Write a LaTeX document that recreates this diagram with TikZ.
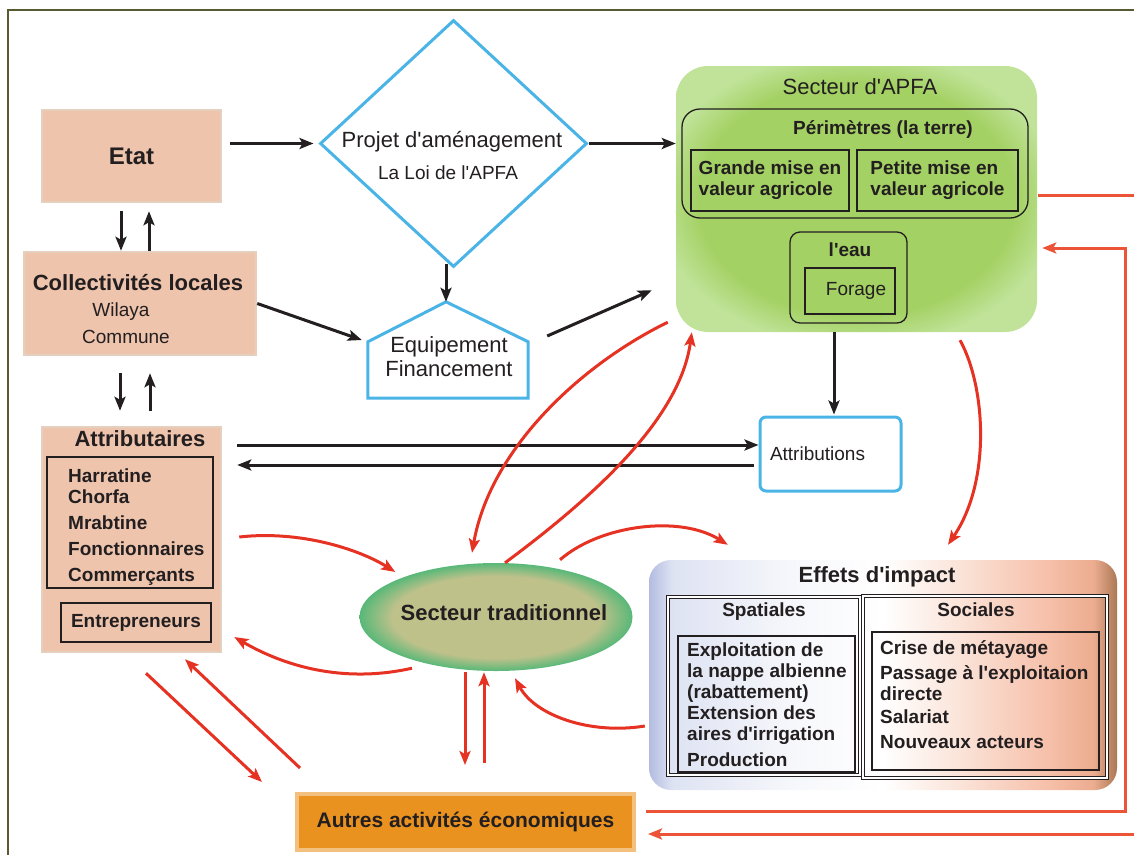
\documentclass[tikz,border=0pt]{standalone}
\usepackage{fontspec}
\setmainfont{Liberation Sans}[Ligatures=TeXOff]
\usepackage{tikz}
\usetikzlibrary{arrows.meta, positioning, calc, shapes.geometric}
\definecolor{inkdark}{RGB}{35,31,32}
\definecolor{framecol}{RGB}{90,90,50}
\definecolor{salmonbox}{RGB}{238,196,173}
\definecolor{salmonrim}{RGB}{229,207,190}
\definecolor{diagblue}{RGB}{75,180,230}
\definecolor{apfagreen}{RGB}{164,209,100}
\definecolor{apfalight}{RGB}{192,227,153}
\definecolor{tradkhaki}{RGB}{191,193,139}
\definecolor{tradgreen}{RGB}{88,184,120}
\definecolor{autresorange}{RGB}{233,146,32}
\definecolor{autresrim}{RGB}{243,192,125}
\definecolor{effblue}{RGB}{178,188,224}
\definecolor{effpale}{RGB}{222,227,243}
\definecolor{effwhite}{RGB}{246,247,251}
\definecolor{effpeach}{RGB}{251,230,220}
\definecolor{effsalmon}{RGB}{246,192,170}
\definecolor{effdeep}{RGB}{236,172,143}
\definecolor{effbrown}{RGB}{170,120,84}
\definecolor{arrred}{RGB}{230,50,35}
\definecolor{loopred}{RGB}{236,84,56}
\pgfdeclarehorizontalshading{effshade}{100bp}{color(0bp)=(effblue); color(25bp)=(effblue); color(27.5bp)=(effpale); color(40bp)=(effwhite); color(50bp)=(white); color(57.5bp)=(effpeach); color(67.5bp)=(effsalmon); color(72.5bp)=(effdeep); color(75bp)=(effbrown); color(100bp)=(effbrown)}
\pgfdeclareradialshading{tradshade}{\pgfpoint{0bp}{0bp}}{color(0bp)=(tradkhaki); color(19bp)=(tradkhaki); color(25bp)=(tradgreen); color(50bp)=(tradgreen)}
\pgfdeclareradialshading{apfashade}{\pgfpoint{0bp}{0bp}}{color(0bp)=(apfagreen); color(22bp)=(apfagreen); color(28bp)=(apfalight); color(50bp)=(apfalight)}
\tikzset{
    pinkbox/.style={rectangle, fill=salmonbox, draw=salmonrim, line width=2.5pt, inner sep=0pt, text=inkdark},
    bluebox/.style={rectangle, draw=diagblue, line width=3pt, rounded corners=6pt, fill=white},
    framebox/.style={rectangle, draw=inkdark, line width=1.3pt, inner sep=0pt},
    dblframe/.style={rectangle, draw=inkdark, line width=0.9pt, double=white, double distance=1.6pt, inner sep=0pt},
    bigtxt/.style={font=\fontsize{22}{24}\selectfont, text=inkdark, inner sep=0pt},
    bigbold/.style={font=\bfseries\fontsize{22}{25}\selectfont, text=inkdark, inner sep=0pt},
    bodytxt/.style={font=\fontsize{19}{21}\selectfont, text=inkdark, inner sep=0pt, align=left},
    bodybold/.style={font=\bfseries\fontsize{19}{21}\selectfont, text=inkdark, inner sep=0pt, align=left},
    blkarrow/.style={-{Stealth[length=14pt, width=11pt, inset=3pt]}, line width=3pt, draw=inkdark},
    redarrow/.style={-{Stealth[length=14pt, width=11pt, inset=3pt]}, line width=3pt, draw=arrred},
    looparrow/.style={-{Stealth[length=14pt, width=11pt, inset=3pt]}, line width=3pt, draw=loopred}
}
\begin{document}
\begin{tikzpicture}[x=1pt, y=-1pt]
\useasboundingbox (0,0) rectangle (1134,854);
\draw[draw=framecol, line width=1.2pt] (8,860) -- (8,10) -- (1140,10);

\node[pinkbox, minimum width=179pt, minimum height=92pt, bigbold, font=\bfseries\fontsize{24}{27}\selectfont] (etat) at (131.5,156) {Etat};

\node[pinkbox, minimum width=232pt, minimum height=103pt] (coll) at (140,303.5) {};
\node[bigbold] (colltitle) at (138,283) {Collectivités locales};
\node[bodytxt] (collwil) at (121,312) {Wilaya};
\node[bodytxt] (collcom) at (126,337) {Commune};

\node[pinkbox, minimum width=179pt, minimum height=225pt] (attr) at (131.5,539.5) {};
\node[bigbold] (attrtitle) at (140,439) {Attributaires};
\node[framebox, minimum width=166pt, minimum height=131pt] (attrgroup) at (130,522.5) {};
\node[bodybold, anchor=north west] (attrlist) at (68,469) {Harratine\\Chorfa\\[5pt]Mrabtine\\[5pt]Fonctionnaires\\[5pt]Commerçants};
\node[framebox, minimum width=150pt, minimum height=39pt, bodybold] (entr) at (136,622.5) {Entrepreneurs};

\node[diamond, draw=diagblue, line width=3pt, minimum width=267pt, minimum height=247pt, inner sep=0pt] (proj) at (453.5,143.5) {};
\node[bigtxt] (projtitle) at (452,142) {Projet d'aménagement};
\node[bodytxt] (projloi) at (448,173) {La Loi de l'APFA};

\node[minimum width=160pt, minimum height=96pt, inner sep=0pt] (equip) at (448,350) {};
\draw[draw=diagblue, line width=3pt] (equip.south west) -- ($(equip.north west)+(0,40)$) -- ($(equip.north)+(-2,0)$) -- ($(equip.north east)+(0,40)$) -- (equip.south east) -- cycle;
\node[bigtxt, align=center] (equiptxt) at (449,357) {Equipement\\Financement};

\node[rectangle, rounded corners=32pt, shade, shading=apfashade, minimum width=361pt, minimum height=266pt, inner sep=0pt] (apfa) at (856.5,199) {};
\node[bigtxt] (apfatitle) at (860,87) {Secteur d'APFA};
\node[framebox, rounded corners=18pt, minimum width=346pt, minimum height=109pt] (peri) at (855,163.5) {};
\node[bodybold] (perititle) at (883,130) {Périmètres (la terre)};
\node[framebox, minimum width=158pt, minimum height=61pt, bodybold] (grande) at (770,180.5) {Grande mise en\\valeur agricole};
\node[framebox, minimum width=161pt, minimum height=61pt, bodybold] (petite) at (937.5,180.5) {Petite mise en\\valeur agricole};
\node[framebox, rounded corners=10pt, minimum width=117pt, minimum height=91pt] (eau) at (848.5,277.5) {};
\node[bodybold] (eautitle) at (850,250) {l'eau};
\node[framebox, minimum width=90pt, minimum height=46pt, bodytxt] (forage) at (850,291) {\hspace*{12pt}Forage};

\node[bluebox, minimum width=141pt, minimum height=74pt, bodytxt, text width=121pt, inner sep=10pt] (attrib) at (830.5,454) {Attributions};

\node[ellipse, shade, shading=tradshade, minimum width=273pt, minimum height=108pt, inner sep=0pt] (trad) at (496,617) {};
\node[bigbold] (tradtxt) at (504,613) {Secteur traditionnel};

\node[rectangle, fill=autresorange, draw=autresrim, line width=4pt, minimum width=337pt, minimum height=56pt, inner sep=0pt, text=inkdark, font=\bfseries\fontsize{21}{24}\selectfont] (autres) at (465.5,822) {Autres activités économiques};

\node[rectangle, rounded corners=22pt, shade, shading=effshade, minimum width=468pt, minimum height=230pt, inner sep=0pt] (effets) at (883,675) {};
\node[bigbold] (effetstitle) at (877,577) {Effets d'impact};
\node[dblframe, minimum width=192pt, minimum height=178pt] (spat) at (764,686) {};
\node[bodybold] (spattitle) at (764,612) {Spatiales};
\node[framebox, minimum width=177pt, minimum height=136pt] (spatgroup) at (766.5,704) {};
\node[bodybold, anchor=north west] (spatlist) at (687,643) {Exploitation de\\la nappe albienne\\(rabattement)\\Extension des\\aires d'irrigation\\[5pt]Production};
\node[dblframe, minimum width=244pt, minimum height=182pt] (soc) at (985,687) {};
\node[bodybold] (soctitle) at (976,610) {Sociales};
\node[framebox, minimum width=227pt, minimum height=138pt] (socgroup) at (985.5,701) {};
\node[bodybold, anchor=north west] (soclist) at (880,640) {Crise de métayage\\[4pt]Passage à l'exploitaion\\directe\\[2pt]Salariat\\[4pt]Nouveaux acteurs};

\draw[blkarrow, shorten <=8pt, shorten >=5pt] (etat.east |- proj.west) -- (proj.west);
\draw[blkarrow] (proj.east) -- (proj.east -| apfa.west);
\draw[blkarrow] ($(proj.south)+(-7.5,-5)$) -- ($(equip.north)+(-2,0)$);
\draw[blkarrow] (coll.east) -- ($(equip.west)+(-6,-10)$);
\draw[blkarrow] ($(equip.east)+(19,-14)$) -- ($(apfa.south west)+(-24,-42)$);
\draw[blkarrow] ($(etat.south)+(-10.5,8)$) -- ($(coll.north)+(-19,0)$);
\draw[blkarrow] ($(coll.north)+(9,0)$) -- ($(etat.south)+(17.5,8)$);
\draw[blkarrow] ($(coll.south)+(-20,17)$) -- ($(attr.north)+(-11.5,-15)$);
\draw[blkarrow] ($(attr.north)+(18.5,-15)$) -- ($(coll.south)+(10,17)$);
\draw[blkarrow] ($(attr.east)+(15,-94.5)$) -- ($(attrib.west)+(0,-9)$);
\draw[blkarrow] ($(attrib.west)+(-5,11)$) -- ($(attr.east)+(15,-74.5)$);
\draw[blkarrow] ($(apfa.south)+(-22.5,0)$) -- ($(attrib.north)+(3.5,-1)$);

\draw[redarrow] ($(apfa.south)+(103.5,8)$) .. controls +(25,45) and +(44,-65) .. ($(effets.north)+(65,-15)$);
\draw[redarrow] ($(apfa.south west)+(-8,-10)$) .. controls +(-88,43) and +(18,-103) .. ($(trad.north)+(-24,-10)$);
\draw[redarrow] ($(trad.north)+(9,0)$) .. controls +(85,-63) and +(-12,88) .. ($(apfa.south west)+(16,0)$);
\draw[redarrow] ($(trad.north)+(64,-3)$) .. controls +(40,-35) and +(-48,-30) .. ($(effets.north west)+(79,-15)$);
\draw[redarrow] ($(attr.east)+(17,-2.5)$) .. controls +(62,-7) and +(-35,-22) .. ($(trad.west)+(36,-45)$);
\draw[redarrow] ($(trad.south)+(-84,-3)$) .. controls +(-62,14) and +(57,33) .. ($(attr.east)+(12,97.5)$);
\draw[redarrow] ($(effets.west)+(-4,51)$) .. controls +(-55,9) and +(20,37) .. ($(trad.south)+(19,7)$);
\draw[redarrow] ($(trad.south)+(-31,1)$) -- ($(autres.north)+(-0.5,-27)$);
\draw[redarrow] ($(autres.north)+(18.5,-29)$) -- ($(trad.south)+(-12,1)$);
\draw[redarrow] ($(attr.south)+(14.5,20)$) -- ($(autres.west)+(-33,-40)$);
\draw[redarrow] ($(autres.west)+(5,-54)$) -- ($(attr.south)+(53.5,6)$);

\draw[looparrow] ($(apfa.east)+(1,-4)$) -- ++(101,0) |- ($(autres.east)+(12,12)$);
\draw[looparrow] ($(autres.east)+(10,-11)$) -- ++(479,0) |- ($(apfa.east)+(5,49)$);
\end{tikzpicture}
\end{document}
